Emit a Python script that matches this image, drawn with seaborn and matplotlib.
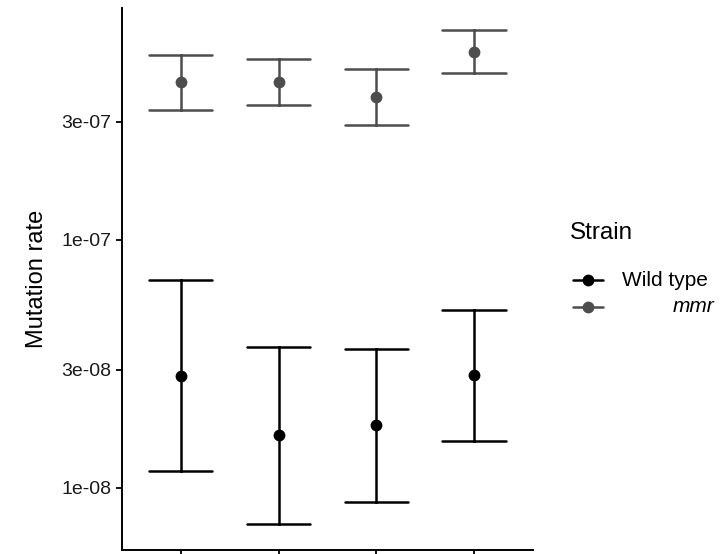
import matplotlib
matplotlib.use("Agg")
import matplotlib.pyplot as plt
import pandas as pd
import seaborn as sns
from matplotlib.lines import Line2D

# x categories (their labels are cut off in the reference)
groups = ["1", "2", "3", "4"]
strains = ["Wild type", "mmr"]

# values
wt_rate = [2.83e-8, 1.64e-8, 1.80e-8, 2.86e-8]
wt_low = [1.17e-8, 7.16e-9, 8.79e-9, 1.55e-8]
wt_high = [6.90e-8, 3.71e-8, 3.63e-8, 5.22e-8]

mmr_rate = [4.34e-7, 4.34e-7, 3.77e-7, 5.73e-7]
mmr_low = [3.34e-7, 3.50e-7, 2.91e-7, 4.71e-7]
mmr_high = [5.57e-7, 5.37e-7, 4.89e-7, 7.03e-7]

ytick_vals = [1e-8, 3e-8, 1e-7, 3e-7]
ytick_labels = ["1e-08", "3e-08", "1e-07", "3e-07"]

colors = {"Wild type": "black", "mmr": "#4d4d4d"}

# long table: lower / estimate / upper per group, median = estimate
rows = []
for strain, est, lo, hi in [("Wild type", wt_rate, wt_low, wt_high),
                            ("mmr", mmr_rate, mmr_low, mmr_high)]:
    for g, a, b, c in zip(groups, lo, est, hi):
        for v in (a, b, c):
            rows.append((g, strain, v))
df = pd.DataFrame(rows, columns=["group", "strain", "rate"])

sns.set_theme(style="ticks")
plt.rcParams["font.family"] = ["Liberation Sans", "DejaVu Sans"]
plt.rcParams["text.color"] = "black"

fig = plt.figure(figsize=(7.2, 5.54), dpi=100)
ax = fig.add_axes([0.1694, 0.0072, 0.5709, 0.9784])
ax.set_yscale("log")

sns.pointplot(
    data=df, x="group", y="rate", hue="strain",
    order=groups, hue_order=strains, palette=colors,
    estimator="median",
    errorbar=lambda v: (v.min(), v.max()),
    linestyle="none", capsize=0.65, dodge=False,
    err_kws={"linewidth": 1.8},
    markersize=8.5, markeredgewidth=0,
    legend=False, ax=ax
)

ax.set_xlim(-0.6, 3.6)
ax.set_ylim(10 ** -8.25, 10 ** -6.065)
ax.set_yticks(ytick_vals)
ax.set_yticklabels(ytick_labels, fontsize=14, color="#1a1a1a")
ax.minorticks_off()
ax.tick_params(axis="y", which="minor", left=False)
ax.tick_params(axis="both", length=4, width=1.3, color="black")
ax.tick_params(axis="x", labelbottom=False)
ax.set_xlabel("")
ax.set_ylabel("Mutation rate", fontsize=17, labelpad=10, color="black")
for side in ["top", "right"]:
    ax.spines[side].set_visible(False)
for side in ["left", "bottom"]:
    ax.spines[side].set_linewidth(1.4)
    ax.spines[side].set_color("black")

# legend drawn by hand to match the ggplot layout
fig.text(570 / 720, 1 - 233 / 554, "Strain", fontsize=17.5, va="center", ha="left")
for i, s in enumerate(strains):
    yy = 1 - (280 + 27 * i) / 554
    fig.add_artist(Line2D([573 / 720, 603 / 720], [yy, yy], color=colors[s], lw=1.8))
    fig.add_artist(Line2D([588 / 720], [yy], color=colors[s], marker="o",
                          markersize=8.5, markeredgewidth=0))
fig.text(622 / 720, 1 - 280 / 554, "Wild type", fontsize=15, va="center", ha="left")
fig.text(714 / 720, 1 - 307 / 554, "mmr", fontsize=15, va="center", ha="right",
         fontstyle="italic")

fig.savefig("out.png", dpi=100)
